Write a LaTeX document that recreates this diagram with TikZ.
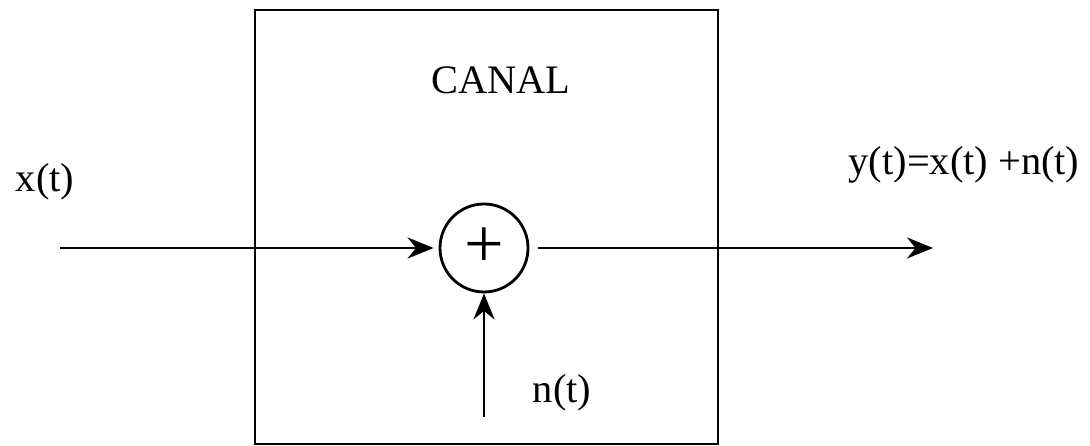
\documentclass[tikz,border=0pt]{standalone}
\usepackage{fontspec}
\setmainfont{Liberation Serif}
\usetikzlibrary{positioning,arrows.meta}

\begin{document}
\begin{tikzpicture}[x=1mm, y=1mm, font=\fontsize{11.5}{13}\selectfont,
  blk/.style={draw, thick, minimum width=46.3mm, minimum height=43.4mm, inner sep=0pt},
  sum/.style={draw, thick, circle, minimum size=8.8mm, inner sep=0pt, font=\fontsize{20}{20}\selectfont},
  sig/.style={-{Stealth[length=2.6mm, width=2.1mm]}, thick}]
\useasboundingbox (0,0) rectangle (109,-44.6);
\node[blk] (canal) at (48.65,-22.7) {};
\node (canallbl) at (50.1,-8) {CANAL};
\node[sum] (add) at (48.4,-24.8) {+};
\coordinate (xin) at (6,-24.8);
\coordinate (yout) at (93.3,-24.8);
\coordinate (nin) at (48.4,-41.7);
\draw[sig, shorten >=0.5mm] (xin) -- (add);
\draw[sig, shorten <=0.9mm] (add) -- (yout);
\draw[sig] (nin) -- (add);
\node (xlbl) at (4.5,-18.2) {x(t)};
\node (ylbl) at (96.4,-16.5) {y(t)=x(t) +n(t)};
\node (nlbl) at (56.2,-39.3) {n(t)};
\end{tikzpicture}
\end{document}
